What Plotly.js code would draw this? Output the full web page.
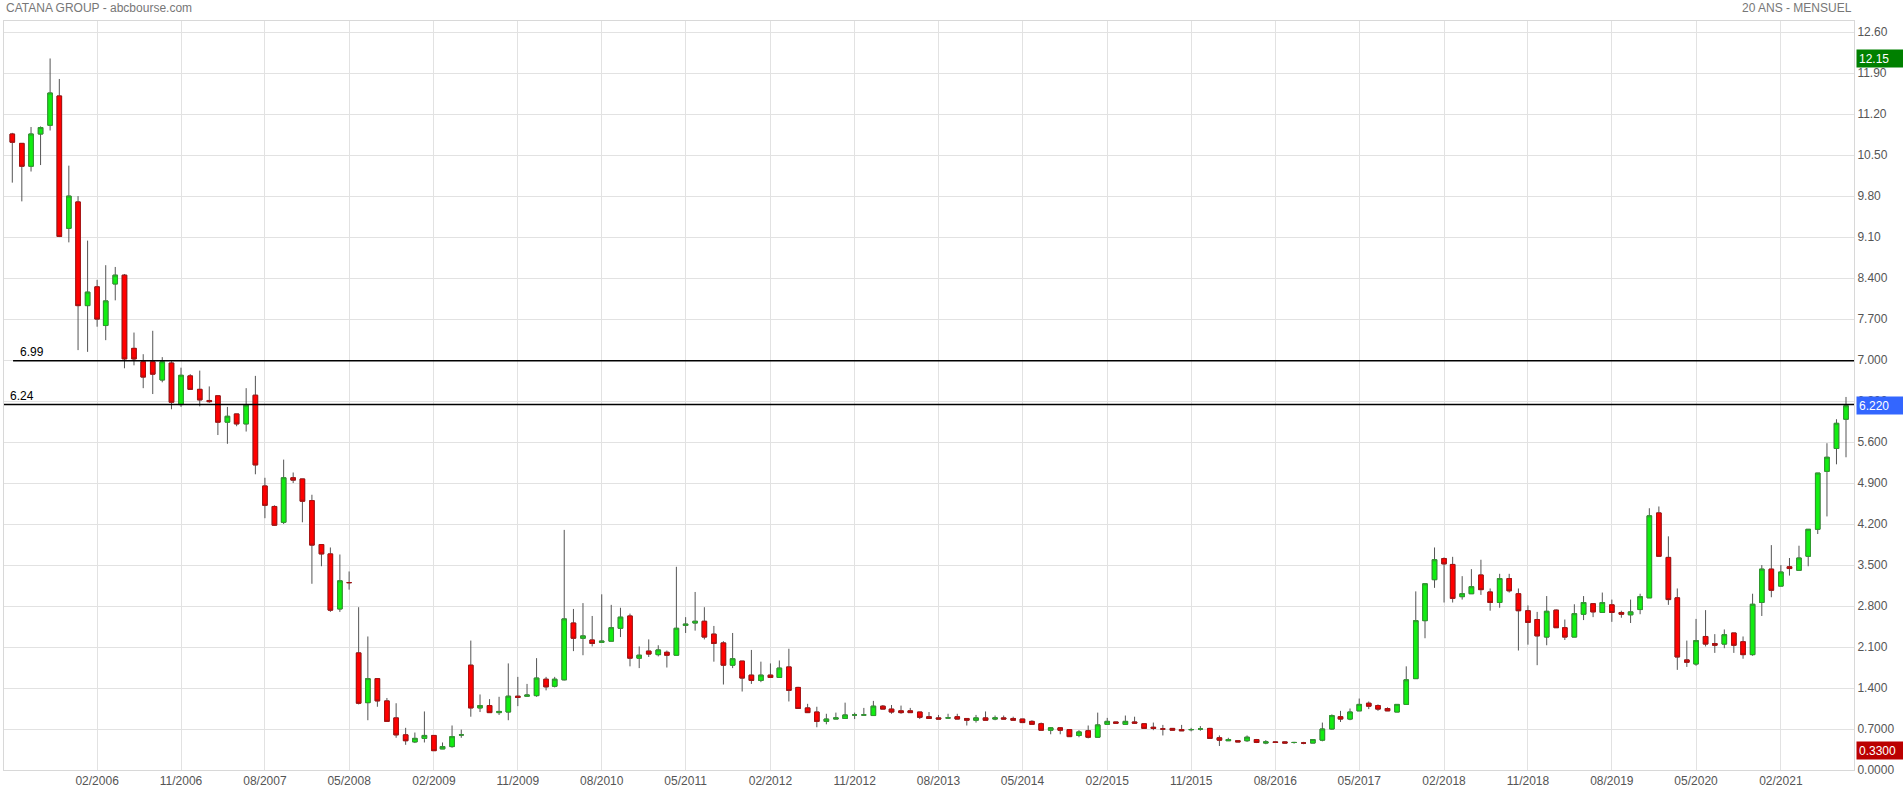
<!DOCTYPE html>
<html>
<head>
<meta charset="utf-8">
<script src="https://cdn.plot.ly/plotly-3.0.1.min.js"></script>
<style>
html,body{margin:0;padding:0;background:#fff;}
#chart{width:1903px;height:796px;}
</style>
</head>
<body>
<div id="chart"></div>
<script>
// Monthly candles, CATANA GROUP (05/2005 - 09/2021)
const months = [
 "2005-05","2005-06","2005-07","2005-08","2005-09","2005-10","2005-11","2005-12",
 "2006-01","2006-02","2006-03","2006-04","2006-05","2006-06","2006-07","2006-08","2006-09","2006-10","2006-11","2006-12",
 "2007-01","2007-02","2007-03","2007-04","2007-05","2007-06","2007-07","2007-08","2007-09","2007-10","2007-11","2007-12",
 "2008-01","2008-02","2008-03","2008-04","2008-05","2008-06","2008-07","2008-08","2008-09","2008-10","2008-11","2008-12",
 "2009-01","2009-02","2009-03","2009-04","2009-05","2009-06","2009-07","2009-08","2009-09","2009-10","2009-11","2009-12",
 "2010-01","2010-02","2010-03","2010-04","2010-05","2010-06","2010-07","2010-08","2010-09","2010-10","2010-11","2010-12",
 "2011-01","2011-02","2011-03","2011-04","2011-05","2011-06","2011-07","2011-08","2011-09","2011-10","2011-11","2011-12",
 "2012-01","2012-02","2012-03","2012-04","2012-05","2012-06","2012-07","2012-08","2012-09","2012-10","2012-11","2012-12",
 "2013-01","2013-02","2013-03","2013-04","2013-05","2013-06","2013-07","2013-08","2013-09","2013-10","2013-11","2013-12",
 "2014-01","2014-02","2014-03","2014-04","2014-05","2014-06","2014-07","2014-08","2014-09","2014-10","2014-11","2014-12",
 "2015-01","2015-02","2015-03","2015-04","2015-05","2015-06","2015-07","2015-08","2015-09","2015-10","2015-11","2015-12",
 "2016-01","2016-02","2016-03","2016-04","2016-05","2016-06","2016-07","2016-08","2016-09","2016-10","2016-11","2016-12",
 "2017-01","2017-02","2017-03","2017-04","2017-05","2017-06","2017-07","2017-08","2017-09","2017-10","2017-11","2017-12",
 "2018-01","2018-02","2018-03","2018-04","2018-05","2018-06","2018-07","2018-08","2018-09","2018-10","2018-11","2018-12",
 "2019-01","2019-02","2019-03","2019-04","2019-05","2019-06","2019-07","2019-08","2019-09","2019-10","2019-11","2019-12",
 "2020-01","2020-02","2020-03","2020-04","2020-05","2020-06","2020-07","2020-08","2020-09","2020-10","2020-11","2020-12",
 "2021-01","2021-02","2021-03","2021-04","2021-05","2021-06","2021-07","2021-08","2021-09"
];

const openP = [
 10.86,10.70,10.31,10.86,11.01,11.51,9.25,9.70,
 7.93,8.25,7.59,8.30,8.45,7.20,6.97,6.97,6.66,6.95,6.24,6.73,
 6.50,6.31,6.39,5.94,6.08,5.91,6.40,4.85,4.50,4.23,4.99,4.97,
 4.60,3.85,3.69,2.75,3.20,2.00,1.15,1.56,1.18,0.89,0.60,0.48,
 0.54,0.59,0.36,0.40,0.60,1.79,1.06,1.10,0.98,0.99,1.26,1.26,
 1.27,1.55,1.43,1.54,2.51,2.25,2.22,2.18,2.20,2.42,2.63,1.91,
 2.03,1.97,2.01,1.96,2.47,2.51,2.54,2.32,2.17,1.79,1.86,1.62,
 1.53,1.62,1.58,1.76,1.41,1.06,0.99,0.83,0.87,0.88,0.94,0.94,
 0.93,1.09,1.04,1.01,1.01,0.99,0.91,0.89,0.89,0.91,0.88,0.85,
 0.89,0.87,0.89,0.88,0.87,0.83,0.79,0.68,0.72,0.69,0.59,0.67,
 0.56,0.78,0.82,0.78,0.82,0.79,0.73,0.70,0.71,0.69,0.69,0.70,
 0.71,0.55,0.50,0.50,0.50,0.52,0.46,0.48,0.48,0.47,0.46,0.46,
 0.51,0.70,0.91,0.87,1.01,1.14,1.10,1.05,0.99,1.12,1.56,2.55,
 3.25,3.61,3.51,2.96,3.01,3.33,3.04,2.86,3.27,3.01,2.72,2.57,
 2.27,2.73,2.43,2.27,2.66,2.84,2.69,2.82,2.69,2.65,2.74,2.94,
 4.39,3.63,2.94,1.88,1.81,2.28,2.16,2.15,2.34,2.19,1.97,2.86,
 3.43,3.14,3.47,3.41,3.65,4.11,5.10,5.49,5.99
];

const highP = [
 10.88,10.70,10.98,10.99,12.15,11.80,10.32,9.80,
 9.04,8.37,8.62,8.59,8.47,7.47,7.10,7.50,7.05,6.98,6.87,6.76,
 6.82,6.55,6.39,6.20,6.08,6.52,6.73,4.99,4.52,5.30,5.08,4.97,
 4.70,3.85,3.80,3.68,3.39,2.78,2.28,1.56,1.23,1.14,0.72,0.64,
 1.00,0.59,0.47,0.76,0.69,2.21,1.29,1.21,1.25,1.82,1.59,1.47,
 1.91,1.59,1.59,4.10,2.75,2.85,2.63,3.00,2.82,2.77,2.67,2.11,
 2.23,2.13,2.04,3.47,2.61,3.04,2.78,2.46,2.20,2.34,1.86,2.05,
 1.85,1.82,1.87,2.07,1.42,1.13,1.08,0.96,0.98,1.15,0.98,1.06,
 1.18,1.11,1.11,1.10,1.06,0.99,0.99,0.94,0.96,0.96,0.88,0.94,
 1.00,0.93,0.93,0.91,0.87,0.85,0.81,0.73,0.73,0.69,0.68,0.76,
 0.98,0.89,0.82,0.93,0.91,0.79,0.81,0.77,0.71,0.77,0.72,0.75,
 0.72,0.59,0.55,0.50,0.59,0.53,0.51,0.49,0.49,0.48,0.48,0.52,
 0.81,0.95,1.01,1.05,1.22,1.17,1.12,1.07,1.12,1.77,3.05,3.18,
 3.80,3.63,3.64,3.31,3.43,3.59,3.10,3.35,3.35,3.10,2.81,2.70,
 2.97,2.74,2.57,2.83,2.97,2.84,3.03,2.91,2.72,2.91,3.01,4.47,
 4.50,3.99,3.10,2.21,2.58,2.73,2.32,2.40,2.34,2.28,3.01,3.50,
 3.84,3.50,3.62,3.83,4.11,5.07,5.58,5.99,6.37
];

const lowP = [
 10.03,9.71,10.22,10.33,10.92,9.10,9.01,7.17,
 7.14,7.57,7.34,8.02,6.86,6.91,6.52,6.42,6.62,6.16,6.20,6.50,
 6.21,6.27,5.72,5.57,5.87,5.78,5.05,4.30,4.17,4.20,4.90,4.23,
 3.18,3.48,2.70,2.70,3.08,1.12,0.85,1.08,0.83,0.55,0.43,0.46,
 0.47,0.33,0.36,0.38,0.55,0.91,0.99,0.98,0.94,0.85,1.09,1.25,
 1.25,1.36,1.41,1.53,2.03,1.96,2.11,2.18,2.20,2.27,1.77,1.74,
 1.93,1.94,1.75,1.96,2.34,2.38,2.23,1.85,1.46,1.74,1.34,1.47,
 1.50,1.57,1.58,1.17,1.05,0.98,0.73,0.78,0.87,0.88,0.87,0.94,
 0.93,1.04,0.96,0.96,0.98,0.87,0.88,0.87,0.89,0.87,0.76,0.81,
 0.85,0.85,0.87,0.85,0.81,0.78,0.68,0.61,0.61,0.57,0.56,0.54,
 0.56,0.78,0.80,0.77,0.79,0.71,0.68,0.59,0.68,0.67,0.66,0.67,
 0.53,0.41,0.50,0.48,0.48,0.46,0.44,0.47,0.46,0.45,0.44,0.46,
 0.49,0.69,0.82,0.85,1.01,1.04,1.01,1.01,0.99,1.12,1.56,2.25,
 3.11,2.86,2.86,2.91,3.01,2.99,2.72,2.77,3.03,2.04,2.14,1.79,
 2.13,2.43,2.22,2.27,2.56,2.61,2.69,2.53,2.60,2.51,2.66,2.94,
 3.65,2.82,1.71,1.76,1.78,2.11,2.00,2.08,2.00,1.90,1.95,2.63,
 2.95,3.14,3.32,3.41,3.48,4.03,4.33,5.22,5.34
];

const closeP = [
 10.72,10.31,10.86,10.97,11.56,9.11,9.80,7.93,
 8.16,7.70,8.01,8.45,7.02,7.02,6.71,6.76,6.97,6.28,6.74,6.50,
 6.32,6.29,5.94,6.04,5.91,6.23,5.21,4.52,4.18,4.99,4.95,4.59,
 3.84,3.69,2.73,3.23,3.20,1.14,1.56,1.18,0.83,0.60,0.50,0.54,
 0.59,0.33,0.40,0.57,0.60,1.06,1.10,0.98,1.00,1.26,1.24,1.28,
 1.57,1.42,1.55,2.58,2.25,2.29,2.16,2.20,2.43,2.61,1.91,1.96,
 1.98,2.05,1.96,2.42,2.49,2.54,2.27,2.16,1.79,1.90,1.57,1.53,
 1.62,1.58,1.74,1.36,1.05,0.98,0.83,0.87,0.89,0.94,0.94,0.94,
 1.09,1.04,0.99,0.98,0.98,0.90,0.88,0.87,0.89,0.87,0.85,0.89,
 0.85,0.89,0.87,0.85,0.81,0.78,0.68,0.72,0.68,0.57,0.65,0.56,
 0.77,0.83,0.80,0.83,0.80,0.71,0.71,0.70,0.68,0.67,0.69,0.70,
 0.54,0.51,0.52,0.48,0.56,0.47,0.48,0.47,0.46,0.47,0.46,0.52,
 0.70,0.93,0.87,0.99,1.12,1.09,1.04,1.01,1.12,1.54,2.55,3.18,
 3.59,3.52,2.93,3.01,3.13,3.08,2.86,3.27,3.06,2.72,2.52,2.29,
 2.71,2.43,2.27,2.67,2.86,2.70,2.86,2.69,2.66,2.70,2.96,4.34,
 3.65,2.91,1.93,1.84,2.21,2.15,2.13,2.31,2.13,1.97,2.83,3.43,
 3.07,3.38,3.44,3.62,4.11,5.07,5.34,5.92,6.22
];

const xTickVals = ["2006-02","2006-11","2007-08","2008-05","2009-02","2009-11","2010-08","2011-05",
 "2012-02","2012-11","2013-08","2014-05","2015-02","2015-11","2016-08","2017-05","2018-02","2018-11",
 "2019-08","2020-05","2021-02"];
const xTickText = ["02/2006","11/2006","08/2007","05/2008","02/2009","11/2009","08/2010","05/2011",
 "02/2012","11/2012","08/2013","05/2014","02/2015","11/2015","08/2016","05/2017","02/2018","11/2018",
 "08/2019","05/2020","02/2021"];

const yTickVals = [0,0.7,1.4,2.1,2.8,3.5,4.2,4.9,5.6,6.3,7.0,7.7,8.4,9.1,9.8,10.5,11.2,11.9,12.6];
const yTickText = ["0.0000","0.7000","1.400","2.100","2.800","3.500","4.200","4.900","5.600","6.300",
 "7.000","7.700","8.400","9.10","9.80","10.50","11.20","11.90","12.60"];

const levelValues = [6.99, 6.24];
const levelLabels = ["6.99", "6.24"];

const tagMax = 12.15, tagLast = 6.22, tagMin = 0.33;
const tagMaxText = "12.15", tagLastText = "6.220", tagMinText = "0.3300";

// body-only arrays (derived from the data)
const bodyHigh = openP.map((o, i) => Math.max(o, closeP[i]));
const bodyLow = openP.map((o, i) => Math.min(o, closeP[i]));

const GREEN = '#11ee11', RED = '#ff0000';

const wicks = {
  type: 'candlestick', x: months, open: openP, high: highP, low: lowP, close: closeP,
  increasing: {line: {color: '#555555', width: 1}, fillcolor: GREEN},
  decreasing: {line: {color: '#555555', width: 1}, fillcolor: RED},
  whiskerwidth: 0, hoverinfo: 'x+text', showlegend: false
};
const bodies = {
  type: 'candlestick', x: months, open: openP, high: bodyHigh, low: bodyLow, close: closeP,
  increasing: {line: {color: '#2f9a2f', width: 1}, fillcolor: GREEN},
  decreasing: {line: {color: '#aa1111', width: 1}, fillcolor: RED},
  whiskerwidth: 0, hoverinfo: 'skip', showlegend: false
};

function tag(v, txt, bg) {
  return {xref: 'paper', x: 1, xanchor: 'left', xshift: 2, yref: 'y', y: v, yanchor: 'middle',
    text: txt, showarrow: false, bgcolor: bg, width: 42, height: 13, align: 'left', borderpad: 2,
    font: {family: 'Arial, "Liberation Sans", sans-serif', size: 12, color: '#ffffff'}};
}

const layout = {
  width: 1903, height: 796,
  margin: {l: 4, r: 49, t: 21, b: 26, pad: 0},
  paper_bgcolor: '#ffffff', plot_bgcolor: '#ffffff',
  showlegend: false,
  boxgap: 0.24,
  font: {family: 'Arial, "Liberation Sans", sans-serif', size: 12, color: '#555555'},
  xaxis: {
    type: 'date', range: ['2005-04-04', '2021-09-27'],
    tickmode: 'array', tickvals: xTickVals, ticktext: xTickText,
    showgrid: true, gridcolor: '#e2e2e2', gridwidth: 1,
    showline: true, linecolor: '#d8d8d8', linewidth: 1, mirror: true,
    zeroline: false, ticks: '', rangeslider: {visible: false}, fixedrange: true,
    tickfont: {size: 12, color: '#555555'}
  },
  yaxis: {
    side: 'right', range: [0, 12.79],
    tickmode: 'array', tickvals: yTickVals, ticktext: yTickText,
    showgrid: true, gridcolor: '#e2e2e2', gridwidth: 1,
    showline: true, linecolor: '#d8d8d8', linewidth: 1, mirror: true,
    zeroline: false, ticks: '', fixedrange: true,
    tickfont: {size: 12, color: '#555555'}
  },
  shapes: [
    {type: 'line', xref: 'paper', x0: 0.0049, x1: 1, yref: 'y', y0: levelValues[0], y1: levelValues[0],
     line: {color: '#000000', width: 1.5}},
    {type: 'line', xref: 'paper', x0: 0, x1: 1, yref: 'y', y0: levelValues[1], y1: levelValues[1],
     line: {color: '#000000', width: 1.5}}
  ],
  annotations: [
    {xref: 'paper', x: 0, xanchor: 'left', yref: 'paper', y: 1.0174, yanchor: 'middle',
     text: 'CATANA GROUP - abcbourse.com', showarrow: false,
     font: {size: 12, color: '#777777'}},
    {xref: 'paper', x: 1, xanchor: 'right', yref: 'paper', y: 1.0174, yanchor: 'middle',
     text: '20 ANS - MENSUEL', showarrow: false,
     font: {size: 12, color: '#777777'}},
    {xref: 'paper', x: 0.0076, xanchor: 'left', yref: 'y', y: levelValues[0], yanchor: 'bottom',
     text: levelLabels[0], showarrow: false, font: {size: 12, color: '#000000'}},
    {xref: 'paper', x: 0.0022, xanchor: 'left', yref: 'y', y: levelValues[1], yanchor: 'bottom',
     text: levelLabels[1], showarrow: false, font: {size: 12, color: '#000000'}},
    tag(tagMax, tagMaxText, '#008000'),
    tag(tagLast, tagLastText, '#3366ff'),
    tag(tagMin, tagMinText, '#bb0000')
  ]
};

Plotly.newPlot('chart', [wicks, bodies], layout, {displayModeBar: false, staticPlot: true});
</script>
</body>
</html>
